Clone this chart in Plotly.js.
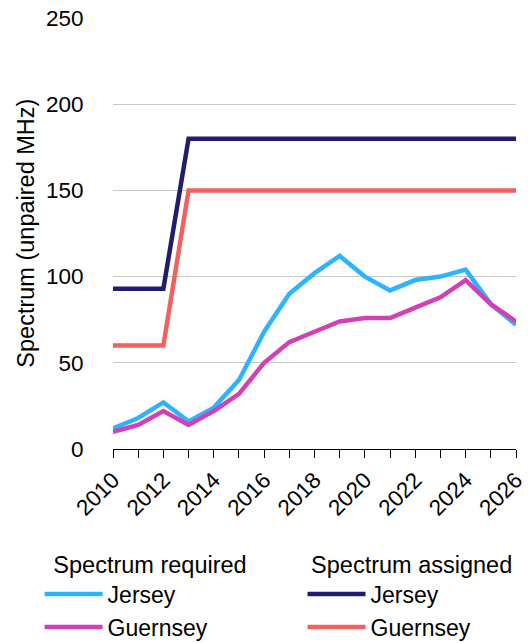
<!DOCTYPE html>
<html><head><meta charset="utf-8">
<script src="https://cdn.plot.ly/plotly-3.0.1.min.js"></script>
<style>html,body{margin:0;padding:0;background:#fff}#chart{width:528px;height:643px}</style>
</head><body><div id="chart"></div>
<script>
const years = [2010,2011,2012,2013,2014,2015,2016,2017,2018,2019,2020,2021,2022,2023,2024,2025,2026];
const requiredJersey   = [12,18,27,16,24,40,68,90,102,112,100,92,98,100,104,84,72];
const requiredGuernsey = [10,14,22,14,22,32,50,62,68,74,76,76,82,88,98,84,74];
const assignedJersey   = [93,93,93,180,180,180,180,180,180,180,180,180,180,180,180,180,180];
const assignedGuernsey = [60,60,60,150,150,150,150,150,150,150,150,150,150,150,150,150,150];
const xTickLabels = years.map(y => (y % 2 === 0 ? String(y) : ''));
const yTicks = [0,50,100,150,200,250];
const yTitle = 'Spectrum (unpaired MHz)';

const fam = 'Liberation Sans, Arial, sans-serif';
const tickFont = {family: fam, size: 22.5, color: '#000'};
const textFont = {family: fam, size: 23.5, color: '#000'};
const itemFont = {family: fam, size: 23, color: '#000'};
const traces = [
  {x: years, y: assignedJersey, name: 'Jersey', legend: 'legend2', mode: 'lines', line: {color: '#221C70', width: 4.5}},
  {x: years, y: assignedGuernsey, name: 'Guernsey', legend: 'legend2', mode: 'lines', line: {color: '#F45F5F', width: 4.5}},
  {x: years, y: requiredJersey, name: 'Jersey', legend: 'legend', mode: 'lines', line: {color: '#2EB3FF', width: 4.5}},
  {x: years, y: requiredGuernsey, name: 'Guernsey', legend: 'legend', mode: 'lines', line: {color: '#D43FB5', width: 4.5}}
];
const legendBase = {
  orientation: 'v', xref: 'container', yref: 'container', yanchor: 'top', xanchor: 'left',
  font: itemFont, itemwidth: 58, tracegroupgap: 0, traceorder: 'normal', bgcolor: 'rgba(0,0,0,0)'
};
const layout = {
  width: 528, height: 643,
  margin: {l: 113, r: 12, t: 18, b: 194, autoexpand: false},
  paper_bgcolor: '#fff', plot_bgcolor: '#fff',
  font: textFont,
  showlegend: true,
  xaxis: {
    range: [2010, 2026], tickmode: 'array', tickvals: years, ticktext: xTickLabels,
    tickangle: -45, ticks: 'outside', ticklen: 8, tickcolor: '#000', tickwidth: 1,
    showline: true, linecolor: '#000', linewidth: 1, showgrid: false, zeroline: false,
    tickfont: tickFont
  },
  yaxis: {
    range: [0, 250], tickmode: 'array', tickvals: yTicks,
    showgrid: true, gridcolor: '#c8c8c8', gridwidth: 1, zeroline: false, showline: false,
    ticks: 'outside', ticklen: 24, tickcolor: 'rgba(0,0,0,0)', tickfont: tickFont
  },
  annotations: [{
    text: yTitle, textangle: -90, xref: 'paper', yref: 'paper',
    x: -0.218, y: 0.5, xanchor: 'center', yanchor: 'middle', showarrow: false, font: textFont
  }],
  legend: Object.assign({}, legendBase, {x: 0.075, y: 0.157, title: {text: '\u2002Spectrum required', font: textFont}}),
  legend2: Object.assign({}, legendBase, {x: 0.573, y: 0.157, title: {text: '\u00a0Spectrum assigned', font: textFont}})
};
Plotly.newPlot('chart', traces, layout, {displayModeBar: false, staticPlot: true});
</script></body></html>
